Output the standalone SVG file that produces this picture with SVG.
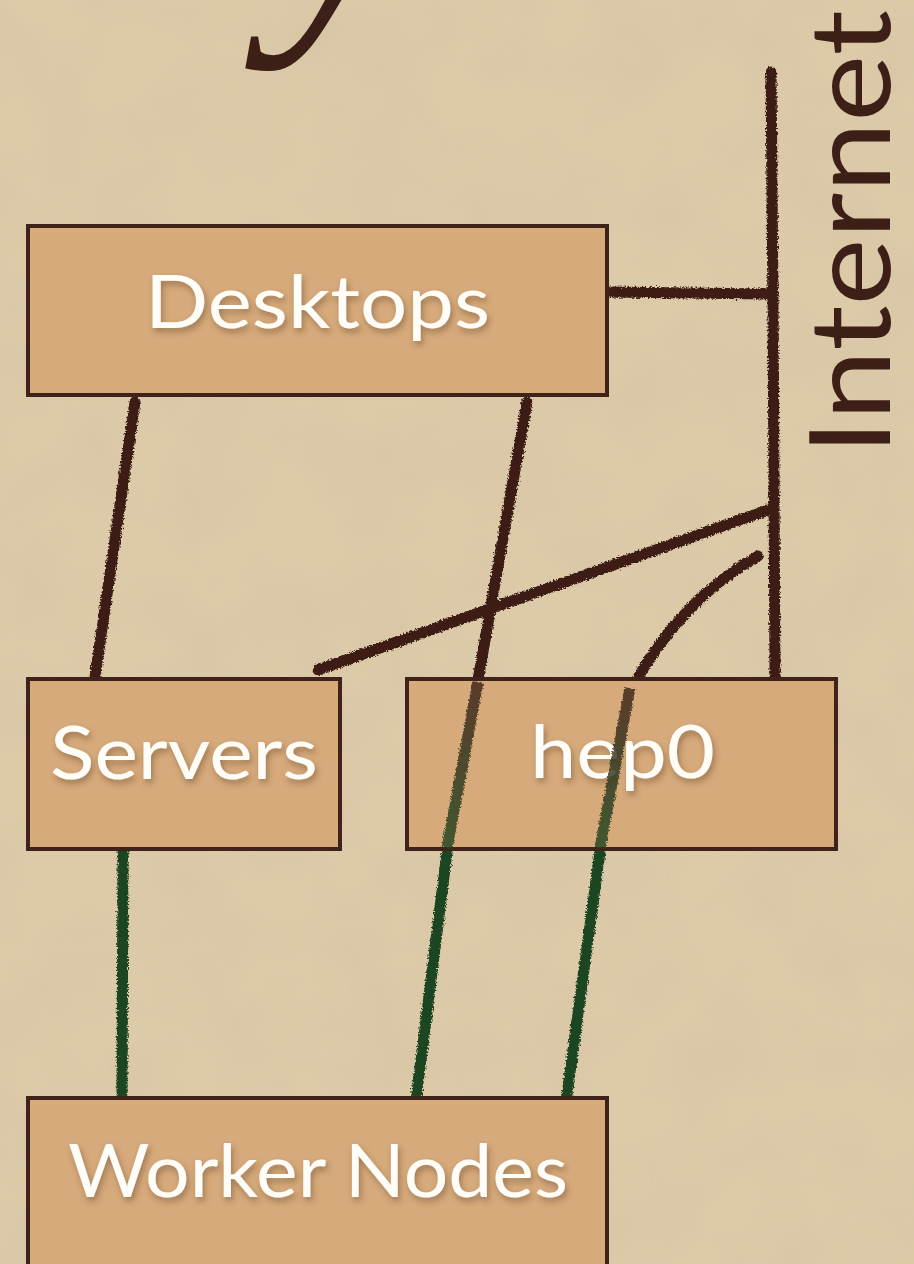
<svg xmlns="http://www.w3.org/2000/svg" width="914" height="1264" viewBox="0 0 914 1264">
<defs>
<style>
.box{fill:#d6aa7b;stroke:#3f2219;stroke-width:4}
.lbl{font-family:Lato,"Open Sans","Liberation Sans",sans-serif;fill:#fffdf8;font-size:74px;filter:url(#shadow)}
.br{stroke:#3c1f16;stroke-width:11;fill:none;stroke-linecap:round;filter:url(#chalk)}
.gr{stroke:#1b4420;stroke-width:11;fill:none;stroke-linecap:round;filter:url(#chalk)}
</style>
<filter id="chalk" filterUnits="userSpaceOnUse" x="0" y="0" width="914" height="1264">
<feTurbulence type="fractalNoise" baseFrequency="0.6" numOctaves="2" seed="3" result="n"/>
<feDisplacementMap in="SourceGraphic" in2="n" scale="5" xChannelSelector="R" yChannelSelector="G"/>
</filter>
<filter id="shadow" x="-10%" y="-20%" width="120%" height="150%">
<feDropShadow dx="2" dy="4" stdDeviation="3" flood-color="#5a3a20" flood-opacity="0.45"/>
</filter>
<filter id="paper" x="0" y="0" width="100%" height="100%">
<feTurbulence type="fractalNoise" baseFrequency="0.012" numOctaves="3" seed="7" result="t"/>
<feColorMatrix in="t" type="matrix" values="0 0 0 0 0.55  0 0 0 0 0.45  0 0 0 0 0.3  0 0 0 -1.6 1" result="c"/>
<feComposite in="c" in2="SourceGraphic" operator="in"/>
</filter>
<linearGradient id="g1" gradientUnits="userSpaceOnUse" x1="0" y1="680" x2="0" y2="850">
<stop offset="0" stop-color="#3c1f16"/><stop offset="1" stop-color="#1b4420"/>
</linearGradient>
</defs>
<rect width="914" height="1264" fill="#dccaa9"/>
<rect width="914" height="1264" fill="#dccaa9" filter="url(#paper)" opacity="0.2"/>

<g id="title">
<text x="272" y="2" font-family="Liberation Serif,serif" font-style="italic" font-size="320" fill="#3c1f16">y</text>
</g>

<g id="internet-label">
<text transform="translate(890,455) rotate(-90)" font-family="Lato,'Open Sans','Liberation Sans',sans-serif" font-size="112" fill="#3c1f16" textLength="445" lengthAdjust="spacingAndGlyphs">Internet</text>
</g>

<g id="connectors">
<path class="br" d="M771,72 L773,300 L775,676"/>
<path class="br" d="M610,292 L772,294"/>
<path class="br" d="M135,402 L95,677"/>
<path class="br" d="M527,402 L478,680"/>
<path class="br" d="M768,510 L318,670"/>
<path class="br" d="M758,556 Q680,600 632,688"/>
<path class="gr" d="M123,852 L122,1094"/>
<path class="gr" d="M447,852 L416,1100"/>
<path class="gr" d="M600,852 L566,1102"/>
</g>

<g id="desktops">
<rect class="box" x="28" y="226" width="579" height="169"/>
<text class="lbl" x="145" y="328" textLength="345" lengthAdjust="spacingAndGlyphs">Desktops</text>
</g>

<g id="servers">
<rect class="box" x="28" y="679" width="312" height="170"/>
<text class="lbl" x="50" y="779" textLength="268" lengthAdjust="spacingAndGlyphs">Servers</text>
</g>

<g id="hep0">
<rect class="box" x="407" y="679" width="429" height="170"/>
<text class="lbl" x="530" y="778" textLength="185" lengthAdjust="spacingAndGlyphs">hep0</text>
<path d="M478,682 L447,848" stroke="url(#g1)" stroke-width="11" fill="none" opacity="0.8" filter="url(#chalk)"/>
<path d="M630,688 L600,848" stroke="url(#g1)" stroke-width="11" fill="none" opacity="0.8" filter="url(#chalk)"/>
</g>

<g id="worker-nodes">
<rect class="box" x="28" y="1098" width="579" height="180"/>
<text class="lbl" x="68" y="1197" textLength="500" lengthAdjust="spacingAndGlyphs">Worker Nodes</text>
</g>
</svg>
